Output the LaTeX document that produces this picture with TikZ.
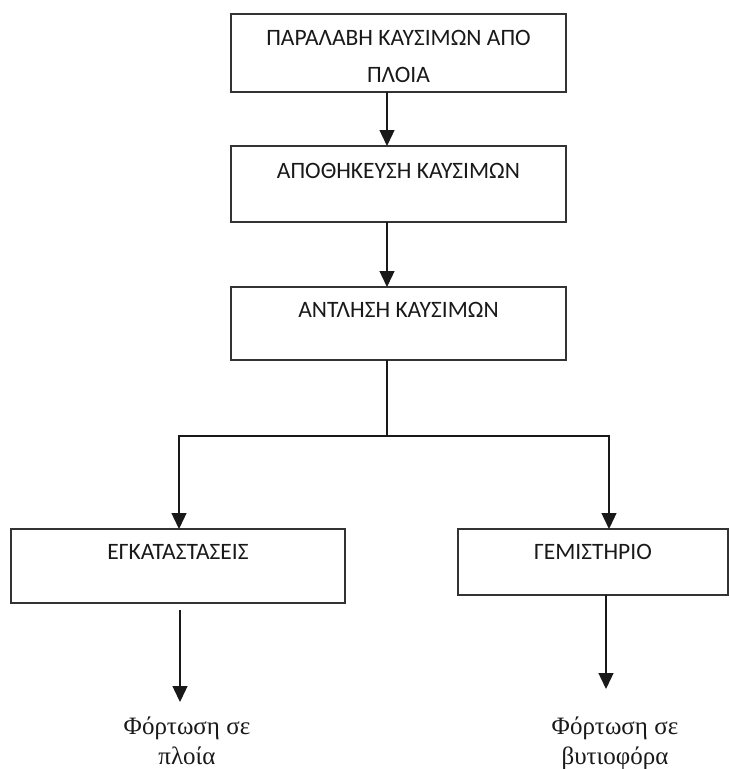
\documentclass[tikz,border=0pt]{standalone}
\usepackage{fontspec}
\setmainfont{Carlito}
\newfontfamily\grserif{Liberation Serif}
\usetikzlibrary{arrows.meta, positioning, calc}
\tikzset{%
  stage/.style={draw=black!80, line width=1.3pt, rectangle, anchor=north west,
    inner sep=0pt, outer sep=0pt, text=black!90,
    font=\fontsize{23.5}{28}\selectfont},
  flow/.style={line width=1.3pt, draw=black!90,
    -{Triangle[width=15pt,length=16pt]}},
  outcome/.style={align=center, anchor=north, inner sep=0pt, text=black!90,
    font=\grserif\fontsize{25}{30}\selectfont}
}

\begin{document}
\begin{tikzpicture}[x=1pt, y=-1pt]
  \useasboundingbox (0,0) rectangle (729,769);

  \node[stage, minimum width=335pt, text height=31.5pt, text depth=46.5pt] (s0) at (231,14)
    {\begin{tabular}[t]{@{}c@{}}ΠΑΡΑΛΑΒΗ ΚΑΥΣΙΜΩΝ ΑΠΟ\\[9pt]ΠΛΟΙΑ\end{tabular}};
  \node[stage, minimum width=335pt, text height=32.5pt, text depth=43.5pt] (s1) at (231,146)
    {ΑΠΟΘΗΚΕΥΣΗ ΚΑΥΣΙΜΩΝ};
  \node[stage, minimum width=335pt, text height=30.5pt, text depth=42.5pt] (s2) at (231,287)
    {ΑΝΤΛΗΣΗ ΚΑΥΣΙΜΩΝ};
  \node[stage, minimum width=334pt, text height=30.5pt, text depth=43.5pt] (s3) at (11,529)
    {ΕΓΚΑΤΑΣΤΑΣΕΙΣ};
  \node[stage, minimum width=270pt, text height=30.5pt, text depth=35.5pt] (s4) at (458,529)
    {ΓΕΜΙΣΤΗΡΙΟ};

  \node[outcome] (o0) at (187,717) {Φόρτωση σε\\πλοία};
  \node[outcome] (o1) at (615,717) {Φόρτωση σε\\βυτιοφόρα};

  \draw[flow] ([xshift=-11.5pt]s0.south) -- ([xshift=-11.5pt]s1.north);
  \draw[flow] ([xshift=-11.5pt]s1.south) -- ([xshift=-11.5pt]s2.north);

  % split towards the two users
  \draw[flow] ([xshift=-11.5pt]s2.south) -- ++(0,76) -| ([xshift=1pt]s3.north);
  \draw[flow] ([xshift=-11.5pt]s2.south) -- ++(0,76) -| ([xshift=16pt]s4.north);

  \draw[flow, shorten >=15pt] ([xshift=2pt,yshift=-7pt]s3.south) -- ([xshift=2pt]s3.south |- o0.north);
  \draw[flow, shorten >=28pt] ([xshift=13pt]s4.south) -- ([xshift=13pt]s4.south |- o1.north);
\end{tikzpicture}
\end{document}
